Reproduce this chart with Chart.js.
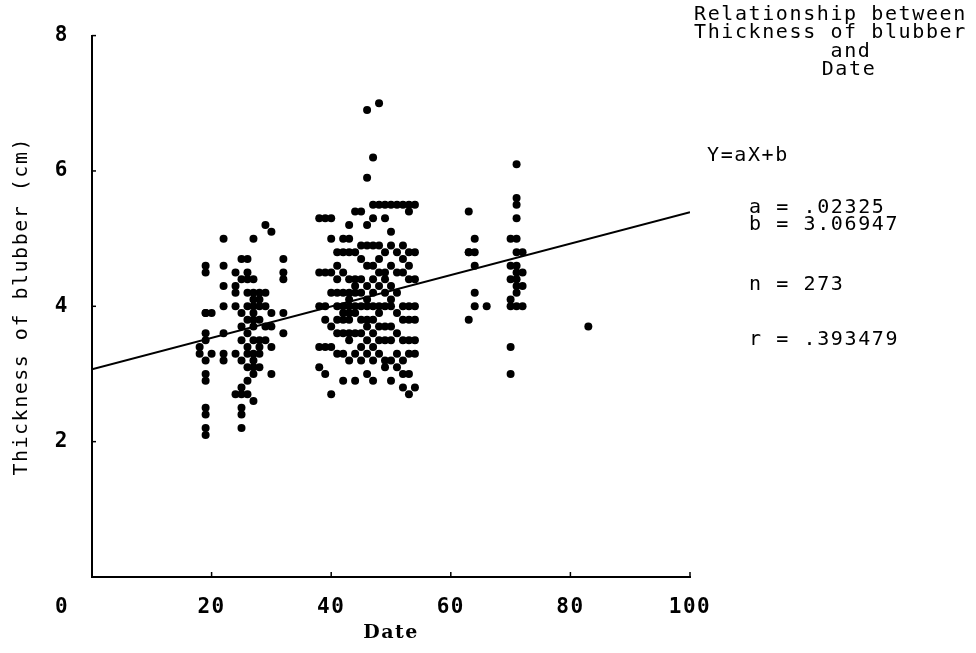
<!DOCTYPE html>
<html><head><meta charset="utf-8">
<script src="https://cdn.jsdelivr.net/npm/chart.js@4/dist/chart.umd.min.js"></script>
<style>html,body{margin:0;padding:0;background:#fff}</style>
</head><body>
<canvas id="c" width="976" height="653"></canvas>
<script>
// Sampling dates (x) and the blubber thickness readings (cm) observed on each date
const columnDates = [18,19,20,22,24,25,26,27,28,29,30,32,
  38,39,40,41,42,43,44,45,46,47,48,49,50,51,52,53,54,
  63,64,66,70,71,72,83];
const columnValues = [
  [3.4,3.3],
  [4.6,4.5,3.9,3.9,3.6,3.5,3.2,3.0,2.9,2.5,2.4,2.2,2.1],
  [3.9,3.3],
  [5.0,4.6,4.3,4.0,3.6,3.3,3.2],
  [4.5,4.3,4.2,4.0,3.3,2.7],
  [4.7,4.4,3.9,3.7,3.5,3.2,2.8,2.7,2.5,2.4,2.2],
  [4.7,4.5,4.4,4.2,4.0,3.8,3.6,3.4,3.3,3.1,2.9,2.7],
  [5.0,4.4,4.2,4.1,4.0,3.9,3.8,3.7,3.5,3.3,3.2,3.1,3.0,2.6],
  [4.2,4.1,4.0,3.8,3.5,3.4,3.3,3.1],
  [5.2,4.2,4.0,3.7,3.5],
  [5.1,3.9,3.7,3.4,3.0],
  [4.7,4.5,4.4,3.9,3.6],
  [5.3,4.5,4.0,3.4,3.1],
  [5.3,4.5,4.0,3.8,3.4,3.0],
  [5.3,5.0,4.5,4.2,3.7,3.4,2.7],
  [4.8,4.6,4.4,4.2,4.0,3.8,3.6,3.3],
  [5.0,4.8,4.5,4.2,4.0,3.9,3.8,3.6,3.3,2.9],
  [5.2,5.0,4.8,4.4,4.2,4.1,4.0,3.9,3.8,3.6,3.5,3.2],
  [5.4,4.8,4.4,4.3,4.2,4.0,3.9,3.6,3.3,2.9],
  [5.4,4.9,4.7,4.4,4.2,4.0,3.8,3.6,3.4,3.2],
  [6.9,5.9,5.2,4.9,4.6,4.3,4.1,4.0,3.8,3.7,3.5,3.3,3.0],
  [6.2,5.5,5.3,4.9,4.6,4.4,4.2,4.0,3.8,3.6,3.4,3.2,2.9],
  [7.0,5.5,4.9,4.7,4.5,4.3,4.0,3.9,3.7,3.5,3.3],
  [5.5,5.3,4.8,4.5,4.4,4.2,4.0,3.7,3.5,3.2,3.1],
  [5.5,5.1,4.9,4.6,4.3,4.1,4.0,3.7,3.5,3.2,2.9],
  [5.5,4.8,4.5,4.2,3.9,3.6,3.3,3.1],
  [5.5,4.9,4.7,4.5,4.0,3.8,3.5,3.2,3.0,2.8],
  [5.5,5.4,4.8,4.6,4.4,4.0,3.8,3.5,3.3,3.0,2.7],
  [5.5,4.8,4.4,4.0,3.8,3.5,3.3,2.8],
  [5.4,4.8,4.8,3.8],
  [5.0,4.8,4.6,4.2,4.0],
  [4.0],
  [5.0,4.6,4.4,4.1,4.0,3.4,3.0],
  [6.1,5.6,5.5,5.3,5.0,4.8,4.6,4.5,4.4,4.3,4.2,4.0],
  [4.8,4.5,4.3,4.0],
  [3.7]
];
// Regression line endpoints (Y = aX + b)
const fitDates = [0, 100];
const fitThickness = [3.07, 5.39];
const xTickValues = [0, 20, 40, 60, 80, 100];
const yTickValues = [0, 2, 4, 6, 8];
const panelTitle = ['Relationship between', 'Thickness of blubber', 'and', 'Date'];
const panelStats = ['Y=aX+b', 'a = .02325', 'b = 3.06947', 'n = 273', 'r = .393479'];

const points = [];
columnDates.forEach((d, i) => columnValues[i].forEach(v => points.push({x: d, y: v})));
const fitPoints = fitDates.map((d, i) => ({x: d, y: fitThickness[i]}));

const MONO = "'DejaVu Sans Mono', 'Liberation Mono', monospace";

const spacingPlugin = {
  id: 'spacing',
  beforeDraw(chart) { chart.ctx.letterSpacing = '1.5px'; }
};

const decorPlugin = {
  id: 'decor',
  afterDraw(chart) {
    const ctx = chart.ctx;
    const xs = chart.scales.x, ys = chart.scales.y;
    ctx.save();
    ctx.strokeStyle = '#000';
    ctx.lineWidth = 1.5;
    // small inward tick marks
    yTickValues.forEach(v => {
      if (v === 0) return;
      const py = ys.getPixelForValue(v);
      ctx.beginPath(); ctx.moveTo(xs.left, py); ctx.lineTo(xs.left + 4, py); ctx.stroke();
    });
    xTickValues.forEach(v => {
      if (v === 0) return;
      const px = xs.getPixelForValue(v);
      ctx.beginPath(); ctx.moveTo(px, ys.bottom); ctx.lineTo(px, ys.bottom - 5); ctx.stroke();
    });
    // shared origin label
    ctx.fillStyle = '#000';
    ctx.letterSpacing = '1.5px';
    ctx.font = "bold 21px " + MONO;
    ctx.textAlign = 'center';
    ctx.textBaseline = 'middle';
    ctx.fillText('0', 62, ys.bottom + 31);
    // right-hand annotation panel
    ctx.letterSpacing = '1.6px';
    ctx.font = "20px " + MONO;
    ctx.textAlign = 'left';
    ctx.fillText(panelTitle[0], 694, 15);
    ctx.fillText(panelTitle[1], 694, 33);
    ctx.textAlign = 'center';
    ctx.fillText(panelTitle[2], 851, 52);
    ctx.fillText(panelTitle[3], 849, 70);
    ctx.textAlign = 'left';
    ctx.fillText(panelStats[0], 707, 156);
    ctx.fillText(panelStats[1], 749, 208);
    ctx.fillText(panelStats[2], 749, 225);
    ctx.fillText(panelStats[3], 749, 285);
    ctx.fillText(panelStats[4], 749, 340);
    ctx.restore();
  }
};

new Chart(document.getElementById('c'), {
  data: {
    datasets: [
      {type: 'scatter', data: points, backgroundColor: '#000', borderWidth: 0,
       pointRadius: 4, pointHoverRadius: 4},
      {type: 'line', data: fitPoints, borderColor: '#000', borderWidth: 2,
       pointRadius: 0, fill: false, tension: 0}
    ]
  },
  options: {
    responsive: false,
    animation: false,
    devicePixelRatio: 1,
    layout: {padding: {top: 28, right: 286, left: 0, bottom: 0}},
    plugins: {legend: {display: false}, tooltip: {enabled: false}},
    scales: {
      x: {
        type: 'linear', min: 0, max: 100,
        afterBuildTicks: s => { s.ticks = xTickValues.map(v => ({value: v})); },
        grid: {display: false, drawTicks: false},
        border: {display: true, color: '#000', width: 2},
        ticks: {color: '#000', padding: 18, autoSkip: false, maxRotation: 0,
          font: {family: MONO, size: 21, weight: 'bold'},
          callback: v => v === 0 ? '' : String(v)},
        title: {display: true, text: 'Date', color: '#000',
          font: {family: "'DejaVu Serif', serif", size: 19, weight: 'bold'},
          padding: {top: 0, bottom: 9}},
        afterFit: s => { s.height = 76; }
      },
      y: {
        type: 'linear', min: 0, max: 8,
        afterBuildTicks: s => { s.ticks = yTickValues.map(v => ({value: v})); },
        grid: {display: false, drawTicks: false},
        border: {display: true, color: '#000', width: 2},
        ticks: {color: '#000', padding: 23,
          font: {family: MONO, size: 21, weight: 'bold'},
          callback: v => v === 0 ? '' : String(v)},
        title: {display: true, text: 'Thickness of blubber (cm)', color: '#000',
          font: {family: MONO, size: 20},
          padding: {top: 10, bottom: 0}},
        afterFit: s => { s.width = 92; }
      }
    }
  },
  plugins: [spacingPlugin, decorPlugin]
});
</script>
</body></html>
